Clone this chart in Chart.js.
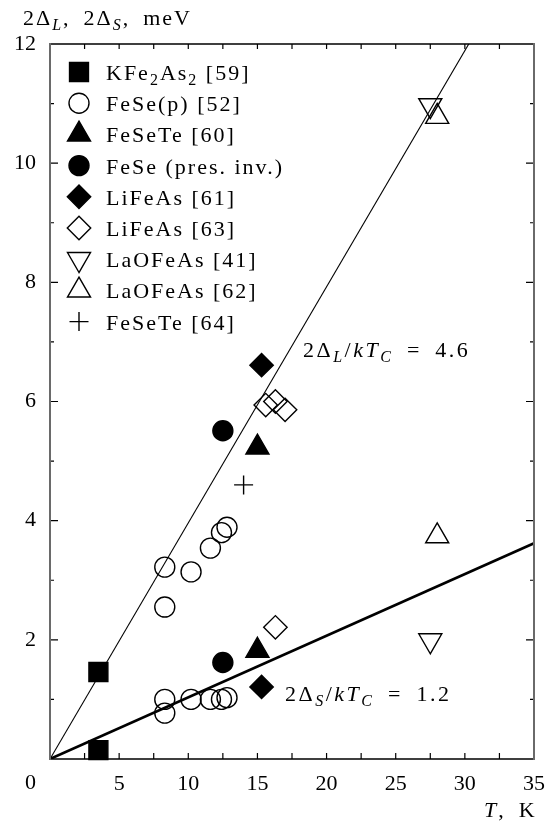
<!DOCTYPE html>
<html>
<head>
<meta charset="utf-8">
<script src="https://cdn.jsdelivr.net/npm/chart.js@4.4.0/dist/chart.umd.min.js"></script>
<style>
  body { margin: 0; background: #fff; }
  #wrap { width: 557px; height: 821px; }
</style>
</head>
<body>
<div id="wrap"><canvas id="myChart"></canvas></div>
<script>
var FONT = '"Liberation Serif", "DejaVu Serif", serif';

// T (K) and 2Δ (meV), one pair of arrays per material
var kfeT = [3.5, 3.5];
var kfeGap = [1.46, 0.15];
var feSePT = [8.3, 8.3, 10.2, 11.6, 12.4, 12.8, 8.3, 8.3, 10.2, 11.6, 12.4, 12.8];
var feSePGap = [3.22, 2.55, 3.14, 3.54, 3.80, 3.89, 1.0, 0.77, 1.0, 1.0, 1.0, 1.03];
var feSeTe60T = [15.0, 15.0];
var feSeTe60Gap = [5.23, 1.82];
var feSePresT = [12.5, 12.5];
var feSePresGap = [5.51, 1.62];
var liFeAs61T = [15.3, 15.3];
var liFeAs61Gap = [6.61, 1.21];
var liFeAs63T = [15.6, 16.3, 17.0, 16.3];
var liFeAs63Gap = [5.94, 6.0, 5.86, 2.21];
var laO41T = [27.5, 27.5];
var laO41Gap = [10.97, 1.99];
var laO62T = [28.0, 28.0];
var laO62Gap = [10.78, 3.74];
var feSeTe64T = [14.0];
var feSeTe64Gap = [4.6];

// the two BCS-like lines through the origin
var lineT = [0, 35];
var lineL = [0, 13.87];
var lineS = [0, 3.62];

var xTickValues = [5, 10, 15, 20, 25, 30, 35];
var yTickValues = [2, 4, 6, 8, 10, 12];

var legendLabels = [
  [['KFe', 'n'], ['2', 'sn'], ['As', 'n'], ['2', 'sn'], [' [59]', 'n']],
  [['FeSe(p) [52]', 'n']],
  [['FeSeTe [60]', 'n']],
  [['FeSe (pres. inv.)', 'n']],
  [['LiFeAs [61]', 'n']],
  [['LiFeAs [63]', 'n']],
  [['LaOFeAs [41]', 'n']],
  [['LaOFeAs [62]', 'n']],
  [['FeSeTe [64]', 'n']]
];

function pts(xs, ys) {
  return xs.map(function (x, i) { return { x: x, y: ys[i] } })
}

function marker(data, style, radius, filled, rotation) {
  return {
    type: 'scatter',
    data: data,
    pointStyle: style,
    pointRadius: radius,
    pointHoverRadius: radius,
    pointRotation: rotation || 0,
    pointBackgroundColor: filled ? '#000' : 'rgba(0,0,0,0)',
    pointBorderColor: '#000',
    pointBorderWidth: 1.4,
    clip: false
  }
}

function drawRich(ctx, x, y, parts, size) {
  size = size || 22;
  parts.forEach(function (p) {
    var sub = p[1].charAt(0) === 's';
    var ital = p[1].indexOf('i') >= 0;
    var fs = sub ? Math.round(size * 0.74) : size;
    ctx.font = (ital ? 'italic ' : '') + fs + 'px ' + FONT;
    ctx.fillText(p[0], x, y + (sub ? size * 0.22 : 0));
    x += ctx.measureText(p[0]).width;
  });
}

var markerDatasets = [
  marker(pts(kfeT, kfeGap), 'rect', 13.4, true),
  marker(pts(feSePT, feSePGap), 'circle', 10, false),
  marker(pts(feSeTe60T, feSeTe60Gap), 'triangle', 13.3, true),
  marker(pts(feSePresT, feSePresGap), 'circle', 10, true),
  marker(pts(liFeAs61T, liFeAs61Gap), 'rectRot', 11.7, true),
  marker(pts(liFeAs63T, liFeAs63Gap), 'rectRot', 11.7, false),
  marker(pts(laO41T, laO41Gap), 'triangle', 13.3, false, 180),
  marker(pts(laO62T, laO62Gap), 'triangle', 13.3, false),
  marker(pts(feSeTe64T, feSeTe64Gap), 'cross', 9.5, false)
];

var frame = {
  id: 'frame',
  afterDraw: function (chart) {
    var ctx = chart.ctx, a = chart.chartArea;
    var xs = chart.scales.x, ys = chart.scales.y;
    ctx.save();
    // inward ticks
    ctx.strokeStyle = '#000';
    ctx.lineWidth = 1.2;
    ctx.beginPath();
    for (var t = 2.5; t < 35; t += 2.5) {
      var px = xs.getPixelForValue(t);
      ctx.moveTo(px, a.bottom); ctx.lineTo(px, a.bottom - 6);
      ctx.moveTo(px, a.top); ctx.lineTo(px, a.top + 5);
    }
    for (var v = 1; v < 12; v++) {
      var py = ys.getPixelForValue(v);
      var len = v % 2 === 0 ? 8 : 4;
      ctx.moveTo(a.left, py); ctx.lineTo(a.left + len, py);
      ctx.moveTo(a.right, py); ctx.lineTo(a.right - len, py);
    }
    ctx.stroke();
    // box
    ctx.lineWidth = 1.6;
    ctx.strokeStyle = '#000';
    ctx.beginPath();
    ctx.moveTo(a.left, a.top); ctx.lineTo(a.right, a.top);
    ctx.moveTo(a.left, a.bottom); ctx.lineTo(a.right, a.bottom);
    ctx.stroke();
    ctx.lineWidth = 2;
    ctx.strokeStyle = '#6a6a6a';
    ctx.beginPath();
    ctx.moveTo(a.left, a.top - 1); ctx.lineTo(a.left, a.bottom + 1);
    ctx.moveTo(a.right, a.top - 1); ctx.lineTo(a.right, a.bottom + 1);
    ctx.stroke();

    // texts
    ctx.fillStyle = '#000';
    ctx.textBaseline = 'alphabetic';
    ctx.textAlign = 'left';
    ctx.font = '22px ' + FONT;
    ctx.fillText('0', a.left - 25, a.bottom + 30);
    ctx.letterSpacing = '2px';
    drawRich(ctx, 23, 25, [['2Δ', 'n'], ['L', 'si'], [',\u20022Δ', 'n'], ['S', 'si'], [',\u2002meV', 'n']]);
    drawRich(ctx, a.right - 50, a.bottom + 58, [['T', 'i'], [',\u2002K', 'n']]);
    ctx.letterSpacing = '2.5px';
    drawRich(ctx, xs.getPixelForValue(18.3), ys.getPixelForValue(6.86) + 7,
      [['2Δ', 'n'], ['L', 'si'], ['/', 'n'], ['kT', 'i'], ['C', 'si'], ['\u2002=\u20024.6', 'n']]);
    drawRich(ctx, xs.getPixelForValue(17.0), ys.getPixelForValue(1.09) + 7,
      [['2Δ', 'n'], ['S', 'si'], ['/', 'n'], ['kT', 'i'], ['C', 'si'], ['\u2002=\u20021.2', 'n']]);

    // legend inside the plot
    ctx.letterSpacing = '2px';
    markerDatasets.forEach(function (ds, i) {
      var y = 72 + i * 31.2;
      ctx.fillStyle = ds.pointBackgroundColor;
      ctx.strokeStyle = '#000';
      ctx.lineWidth = ds.pointBorderWidth;
      Chart.helpers.drawPoint(ctx, {
        pointStyle: ds.pointStyle,
        rotation: ds.pointRotation,
        radius: ds.pointRadius,
        borderWidth: ds.pointBorderWidth
      }, 79, y);
      ctx.fillStyle = '#000';
      drawRich(ctx, 106, y + 8, legendLabels[i]);
    });
    ctx.restore();
  }
};

var ctx = document.getElementById('myChart').getContext('2d');
var chart = new Chart(ctx, {
  type: 'scatter',
  data: {
    datasets: [
      {
        type: 'line', data: pts(lineT, lineL), borderColor: '#000', borderWidth: 1.1,
        pointRadius: 0, showLine: true, fill: false
      },
      {
        type: 'line', data: pts(lineT, lineS), borderColor: '#000', borderWidth: 2.6,
        pointRadius: 0, showLine: true, fill: false
      }
    ].concat(markerDatasets)
  },
  options: {
    responsive: true,
    maintainAspectRatio: false,
    animation: false,
    layout: { padding: { top: 44, right: 20, left: 0, bottom: 0 } },
    plugins: { legend: { display: false }, tooltip: { enabled: false } },
    scales: {
      x: {
        type: 'linear', min: 0, max: 35,
        grid: { display: false, drawTicks: false },
        border: { display: false },
        afterFit: function (s) { s.height = 62 },
        afterBuildTicks: function (s) { s.ticks = xTickValues.map(function (v) { return { value: v } }) },
        ticks: { color: '#000', padding: 12, font: { family: FONT, size: 22 }, maxRotation: 0 }
      },
      y: {
        type: 'linear', min: 0, max: 12,
        grid: { display: false, drawTicks: false },
        border: { display: false },
        afterFit: function (s) { s.width = 50 },
        afterBuildTicks: function (s) { s.ticks = yTickValues.map(function (v) { return { value: v } }) },
        ticks: { color: '#000', padding: 14, font: { family: FONT, size: 22 } }
      }
    }
  },
  plugins: [frame]
});
</script>
</body>
</html>
